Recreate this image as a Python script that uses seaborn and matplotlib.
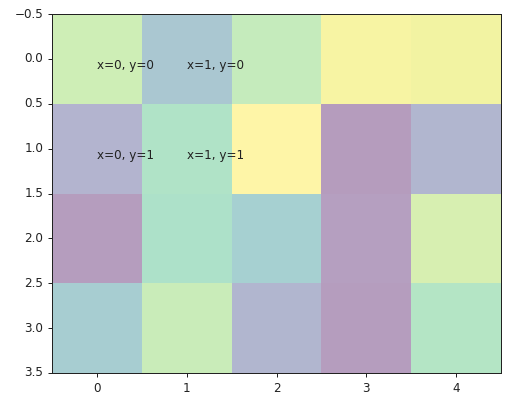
import matplotlib
matplotlib.use("Agg")
import matplotlib.pyplot as plt
import seaborn as sns
import numpy as np

values = [
    [0.82, 0.38, 0.78, 0.97, 0.95],
    [0.20, 0.68, 1.00, 0.02, 0.22],
    [0.03, 0.66, 0.48, 0.04, 0.85],
    [0.45, 0.80, 0.22, 0.03, 0.70],
]
x_tick_labels = ["0", "1", "2", "3", "4"]
y_tick_labels = ["−0.5", "0.0", "0.5", "1.0", "1.5", "2.0", "2.5", "3.0", "3.5"]
annot_cells = [(0, 0), (1, 0), (0, 1), (1, 1)]

sns.set_style("ticks")
plt.rcParams["font.family"] = ["DejaVu Sans"]

fs = 12
fig = plt.figure(figsize=(515 / 72, 398 / 72), dpi=72)
ax = fig.add_axes([52 / 515, 25 / 398, 449 / 515, 359 / 398])
sns.heatmap(np.array(values), ax=ax, cmap="viridis", vmin=0, vmax=1, alpha=0.4,
            cbar=False, square=False, linewidths=0)
ax.set_xticks(np.arange(len(x_tick_labels)) + 0.5)
ax.set_xticklabels(x_tick_labels, rotation=0, fontsize=fs)
ax.set_yticks(np.arange(len(y_tick_labels)) * 0.5)
ax.set_yticklabels(y_tick_labels, rotation=0, fontsize=fs)
ax.tick_params(length=4.4, width=1.0, pad=4.4, color="#222222", labelcolor="#222222")
for s in ax.spines.values():
    s.set_visible(True)
    s.set_color("#222222")
    s.set_linewidth(1.0)

for (cx, cy) in annot_cells:
    ax.text(cx + 0.5, cy + 0.5, f"x={cx}, y={cy}", ha="left", va="top",
            fontsize=fs, color="#222222")

fig.savefig("out.png", dpi=72)
